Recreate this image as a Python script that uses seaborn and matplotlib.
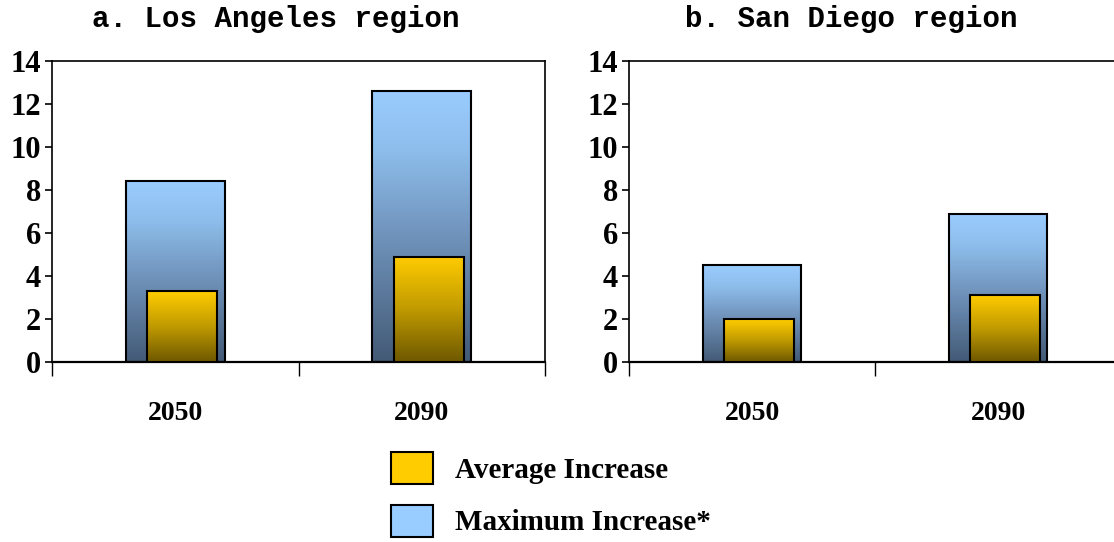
import numpy as np
import seaborn as sns
import matplotlib.pyplot as plt
from matplotlib.colors import LinearSegmentedColormap
from matplotlib.patches import Patch

# values
years = ["2050", "2090"]
la_avg = [3.3, 4.9]
la_max = [8.4, 12.6]
sd_avg = [2.0, 3.1]
sd_max = [4.5, 6.9]
titles = ["a. Los Angeles region", "b. San Diego region"]
legend_labels = ["Average Increase", "Maximum Increase*"]

sns.set_style("white")
plt.rcParams['font.family'] = ['Liberation Serif', 'DejaVu Serif']
plt.rcParams['font.weight'] = 'bold'
plt.rcParams['text.color'] = 'black'
plt.rcParams['xtick.color'] = 'black'
plt.rcParams['ytick.color'] = 'black'

blue_cmap = LinearSegmentedColormap.from_list(
    "blue", [(0, "#435A76"), (0.5, "#7397C0"), (0.78, "#8DBDEB"), (1, "#9ACCFF")])
gold_cmap = LinearSegmentedColormap.from_list(
    "gold", [(0, "#6E5800"), (0.5, "#C09A00"), (1, "#FFCC00")])


def fill_gradient(ax, patches, cmap, z):
    grad = np.linspace(1, 0, 256).reshape(-1, 1)
    for p in patches:
        x, w, h = p.get_x(), p.get_width(), p.get_height()
        im = ax.imshow(grad, extent=[x, x + w, 0, h], aspect='auto', cmap=cmap,
                       vmin=0, vmax=1, zorder=z - 0.1)
        im.set_clip_path(p)
        p.set_facecolor('none')
        p.set_edgecolor('black')
        p.set_linewidth(1.5)
        p.set_zorder(z)


fig = plt.figure(figsize=(11.14, 5.42), dpi=100)
positions = [[52 / 1114, 180 / 542, 493 / 1114, 301 / 542],
             [629 / 1114, 180 / 542, 492 / 1114, 301 / 542]]
title_x = [276 / 1114, 851 / 1114]

for i, (avg, mx) in enumerate([(la_avg, la_max), (sd_avg, sd_max)]):
    ax = fig.add_axes(positions[i])
    sns.barplot(x=years, y=mx, width=0.4, color="#9ACCFF", ax=ax)
    n_blue = len(ax.patches)
    sns.barplot(x=years, y=avg, width=0.284, color="#FFCC00", ax=ax)
    blue = list(ax.patches[:n_blue])
    gold = list(ax.patches[n_blue:])
    for p in gold:
        p.set_x(p.get_x() + 0.028)
    fill_gradient(ax, blue, blue_cmap, 2)
    fill_gradient(ax, gold, gold_cmap, 3)

    ax.set_xlim(-0.5, 1.5)
    ax.set_ylim(0, 14)
    ax.set_yticks(range(0, 15, 2))
    ax.tick_params(axis='y', which='major', left=True, length=5, width=1.2,
                   direction='out', pad=3, labelsize=22)
    ax.set_xticks([-0.5, 0.5, 1.5])
    ax.set_xticklabels([])
    ax.tick_params(axis='x', which='major', bottom=True, length=10, width=1.0,
                   direction='out')
    ax.set_xticks([0, 1], minor=True)
    ax.set_xticklabels(years, minor=True)
    ax.tick_params(axis='x', which='minor', bottom=True, length=0, pad=28,
                   labelsize=20)
    for lab in ax.get_xticklabels(minor=True) + ax.get_yticklabels():
        lab.set_fontweight('bold')
    for s in ax.spines.values():
        s.set_visible(True)
        s.set_color('black')
        s.set_linewidth(1.2)
    ax.spines['bottom'].set_linewidth(1.6)
    ax.set_xlabel('')
    ax.set_ylabel('')
    ax.grid(False)
    fig.text(title_x[i], 1 - 19 / 542, titles[i], ha='center', va='center',
             family=['Liberation Mono', 'DejaVu Sans Mono'], fontweight='bold',
             fontsize=21)

handles = [Patch(facecolor="#FFCC00", edgecolor="black", linewidth=1.5),
           Patch(facecolor="#99CCFF", edgecolor="black", linewidth=1.5)]
fig.legend(handles, legend_labels, loc='upper left',
           bbox_to_anchor=(391 / 1114, 1 - 452 / 542), frameon=False,
           borderpad=0, borderaxespad=0, handlelength=1.45, handleheight=1.3,
           handletextpad=0.76, labelspacing=0.72,
           prop={'family': 'Liberation Serif', 'weight': 'bold', 'size': 21})

fig.savefig("out.png", dpi=100)
